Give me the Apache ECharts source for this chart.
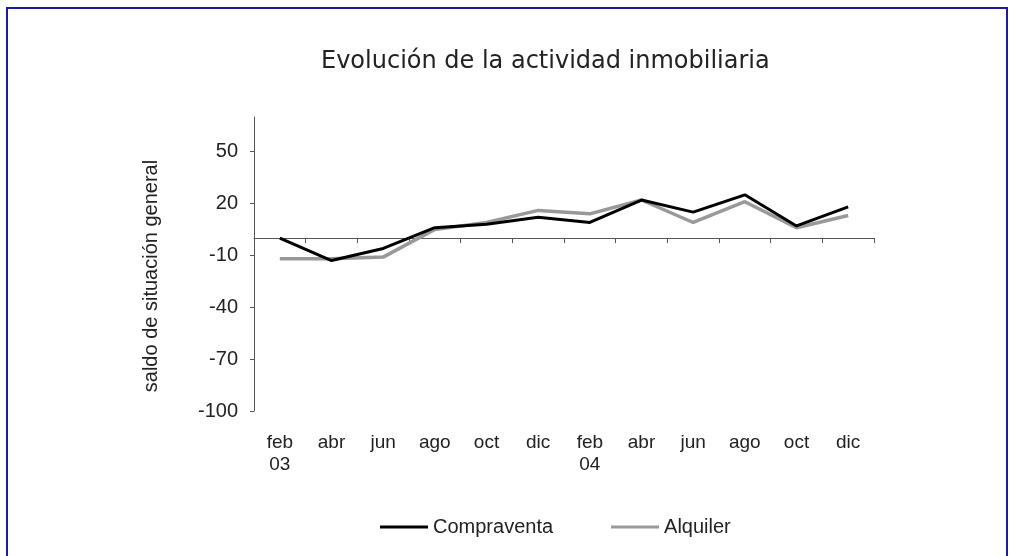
<!DOCTYPE html>
<html lang="es">
<head>
    <meta charset="UTF-8">
    <title>Evolución de la actividad inmobiliaria</title>
    <script src="https://cdn.jsdelivr.net/npm/echarts@6.0.0/dist/echarts.min.js"></script>
    <style>
        body { margin: 0; background: #fff; }
        #frame { position: absolute; left: 6px; top: 7px; width: 998px; height: 560px;
                 border: 2px solid #1c1c9c; border-bottom: none; }
        #main { position: absolute; left: 0; top: 0; width: 1013px; height: 556px; }
    </style>
</head>
<body>
<div id="frame"></div>
<div id="main"></div>
<script type="text/javascript">
    // categorías (meses, con el año debajo del primero de cada año)
    var meses = ['feb\n03', 'abr', 'jun', 'ago', 'oct', 'dic',
                 'feb\n04', 'abr', 'jun', 'ago', 'oct', 'dic'];
    // saldos
    var compraventa = [0, -13, -6, 6, 8, 12, 9, 22, 15, 25, 7, 18];
    var alquiler = [-12, -12, -11, 5, 9, 16, 14, 22, 9, 21, 6, 13];
    var yTicks = [-100, -70, -40, -10, 20, 50];

    var myChart = echarts.init(document.getElementById('main'), null, {renderer: 'canvas'});

    var fuente = 'Liberation Sans';

    var option = {
        backgroundColor: 'transparent',
        animation: false,
        title: {
            text: 'Evolución de la actividad inmobiliaria',
            left: 316,
            top: 45,
            textStyle: {fontFamily: 'DejaVu Sans', fontSize: 24, fontWeight: 'normal', color: '#222'}
        },
        legend: {
            left: 375,
            top: 512,
            itemWidth: 48,
            itemHeight: 3,
            itemGap: 58,
            icon: 'rect',
            textStyle: {fontFamily: fuente, fontSize: 20, color: '#222'},
            data: ['Compraventa', 'Alquiler']
        },
        grid: {left: 254, right: 139, top: 117, bottom: 145},
        xAxis: [{
            type: 'category',
            data: meses,
            boundaryGap: true,
            axisLine: {onZero: true, lineStyle: {color: '#555', width: 1}},
            axisTick: {show: true, inside: false, length: 5, lineStyle: {color: '#555'}},
            axisLabel: {show: false}
        }, {
            type: 'category',
            data: meses,
            position: 'bottom',
            boundaryGap: true,
            axisLine: {show: false, onZero: false},
            axisTick: {show: false},
            axisLabel: {
                show: true,
                margin: 21,
                lineHeight: 22,
                fontFamily: fuente,
                fontSize: 19,
                color: '#222'
            }
        }],
        yAxis: {
            type: 'value',
            min: -100,
            max: 70,
            interval: 30,
            name: 'saldo de situación general',
            nameLocation: 'middle',
            nameGap: 93,
            nameTextStyle: {fontFamily: fuente, fontSize: 20, color: '#222', padding: [0, 24, 0, 0]},
            axisLine: {show: true, lineStyle: {color: '#555', width: 1}},
            axisTick: {show: true, length: 4, customValues: yTicks, lineStyle: {color: '#555'}},
            axisLabel: {
                margin: 16,
                customValues: yTicks,
                fontFamily: fuente,
                fontSize: 20,
                color: '#222'
            },
            splitLine: {show: false}
        },
        series: [{
            name: 'Compraventa',
            type: 'line',
            xAxisIndex: 0,
            data: compraventa,
            symbol: 'none',
            z: 3,
            itemStyle: {color: '#000'},
            lineStyle: {color: '#000', width: 3}
        }, {
            name: 'Alquiler',
            type: 'line',
            xAxisIndex: 0,
            data: alquiler,
            symbol: 'none',
            z: 2,
            itemStyle: {color: '#999'},
            lineStyle: {color: '#999', width: 3.5}
        }]
    };

    myChart.setOption(option);
</script>
</body>
</html>
